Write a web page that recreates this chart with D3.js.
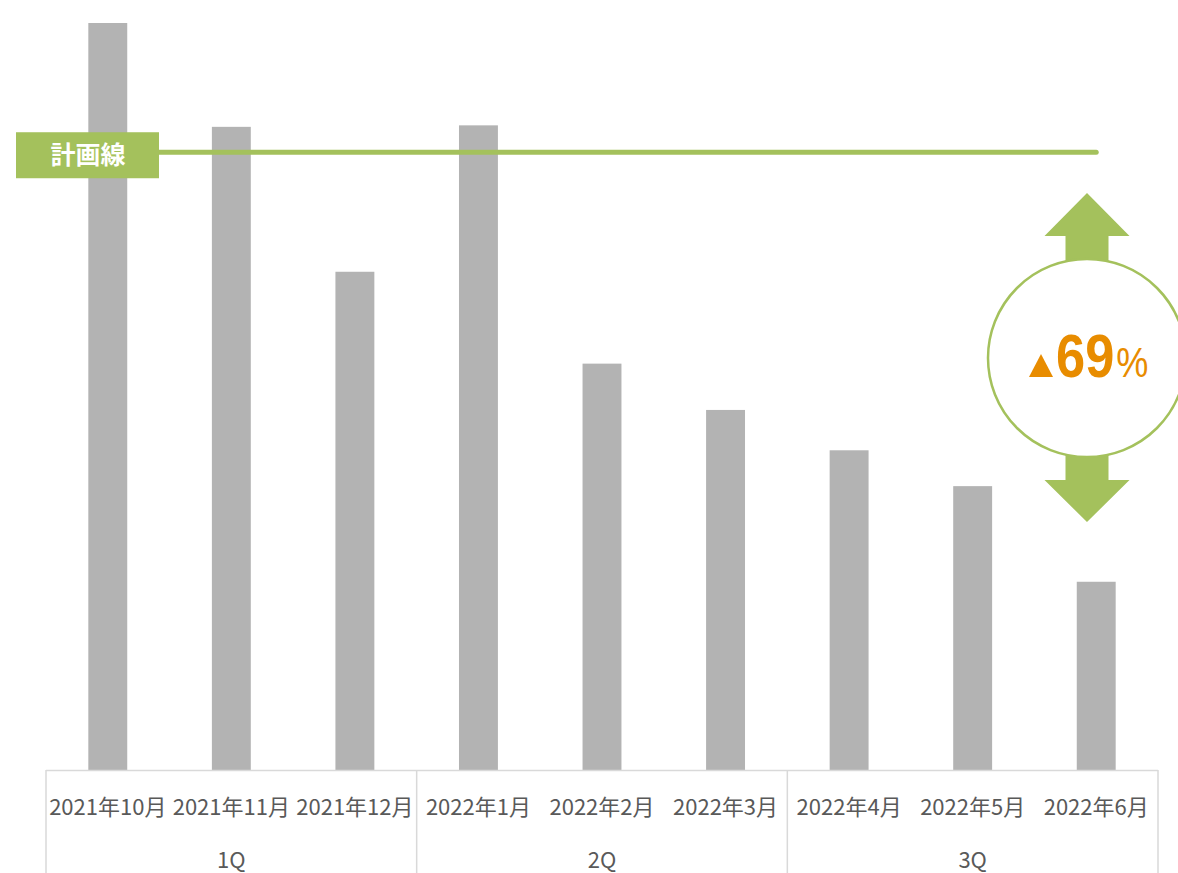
<!DOCTYPE html>
<html><head><meta charset="utf-8">
<script src="https://cdn.jsdelivr.net/npm/d3@7/dist/d3.min.js"></script>
<style>body{margin:0;background:#fff}svg{display:block}</style>
</head><body>
<script>
const months = ["2021年10月","2021年11月","2021年12月","2022年1月","2022年2月","2022年3月","2022年4月","2022年5月","2022年6月"];
const quarters = ["1Q","2Q","3Q"];
const values = [100, 86.1, 66.7, 86.3, 54.4, 48.2, 42.8, 38.0, 25.2];
const planValue = 82.7;
const planLabel = "計画線";
const changeLabel = "69";

const W = 1178, H = 873;
const svg = d3.select("body").append("svg").attr("width", W).attr("height", H);
const x = d3.scaleBand().domain(months).range([46, 1158]).paddingInner(0.685).paddingOuter(0.3425);
const y = d3.scaleLinear().domain([0, 103.08]).range([770, 0]);
const green = "#a4c15c", grey = "#b3b3b3", axisC = "#d9d9d9";
const font = "'Noto Sans CJK JP', 'Noto Sans', sans-serif";

svg.selectAll("rect.bar").data(values).join("rect").attr("class","bar")
  .attr("x",(d,i)=>x(months[i])).attr("width",x.bandwidth())
  .attr("y",d=>y(d)).attr("height",d=>y(0)-y(d)).attr("fill",grey);

// axis
svg.append("line").attr("x1",46).attr("x2",1158).attr("y1",770.5).attr("y2",770.5).attr("stroke",axisC).attr("stroke-width",1.5);
const step = x.step();
[0,3,6,9].forEach(k=>{
  const xx = 46 + k*step;
  svg.append("line").attr("x1",xx).attr("x2",xx).attr("y1",770).attr("y2",873).attr("stroke",axisC).attr("stroke-width",1.5);
});
svg.selectAll("text.m").data(months).join("text").attr("class","m")
  .attr("x",d=>x(d)+x.bandwidth()/2).attr("y",815).attr("text-anchor","middle")
  .attr("font-family",font).attr("font-size",22).attr("fill","#595959").text(d=>d);
svg.selectAll("text.q").data(quarters).join("text").attr("class","q")
  .attr("x",(d,i)=>46+(i*3+1.5)*step).attr("y",868).attr("text-anchor","middle")
  .attr("font-family",font).attr("font-size",22).attr("fill","#595959").text(d=>d);

// plan line
svg.append("line").attr("x1",150).attr("x2",x(months[8])+x.bandwidth()/2)
  .attr("y1",y(planValue)).attr("y2",y(planValue)).attr("stroke",green).attr("stroke-width",5).attr("stroke-linecap","round");
svg.append("rect").attr("x",16).attr("y",y(planValue)-20).attr("width",143).attr("height",46).attr("fill",green);
svg.append("text").attr("x",88).attr("y",y(planValue)+11.5).attr("text-anchor","middle")
  .attr("font-family","'Noto Sans CJK JP', sans-serif").attr("font-weight","bold").attr("font-size",25).attr("fill","#fff").text(planLabel);

// arrows + circle
const cx = 1087, cy = 358, r = 99;
const shaftL = cx-21.5, shaftR = cx+21.5, headL = cx-42.5, headR = cx+42.5;
svg.append("path").attr("fill",green)
  .attr("d",`M${cx},193 L${headR},236 L${shaftR},236 L${shaftR},290 L${shaftL},290 L${shaftL},236 L${headL},236 Z`);
svg.append("path").attr("fill",green)
  .attr("d",`M${cx},522 L${headR},480 L${shaftR},480 L${shaftR},430 L${shaftL},430 L${shaftL},480 L${headL},480 Z`);
svg.append("circle").attr("cx",cx).attr("cy",cy).attr("r",r).attr("fill","#fff").attr("stroke",green).attr("stroke-width",2.5);
const orange = "#e88c00";
svg.append("path").attr("fill",orange).attr("d","M1041,354 L1053,377 L1029,377 Z");
const g = svg.append("g").attr("transform","translate(1056,377) scale(0.86,1)");
g.append("text").attr("x",0).attr("y",0).attr("font-family","'Liberation Sans', Arial, sans-serif")
  .attr("fill",orange).attr("font-weight","bold").attr("font-size",61).text(changeLabel);
g.append("text").attr("x",70).attr("y",0).attr("font-family","'Liberation Sans', Arial, sans-serif")
  .attr("fill",orange).attr("font-size",42).text("%");
</script>
</body></html>
